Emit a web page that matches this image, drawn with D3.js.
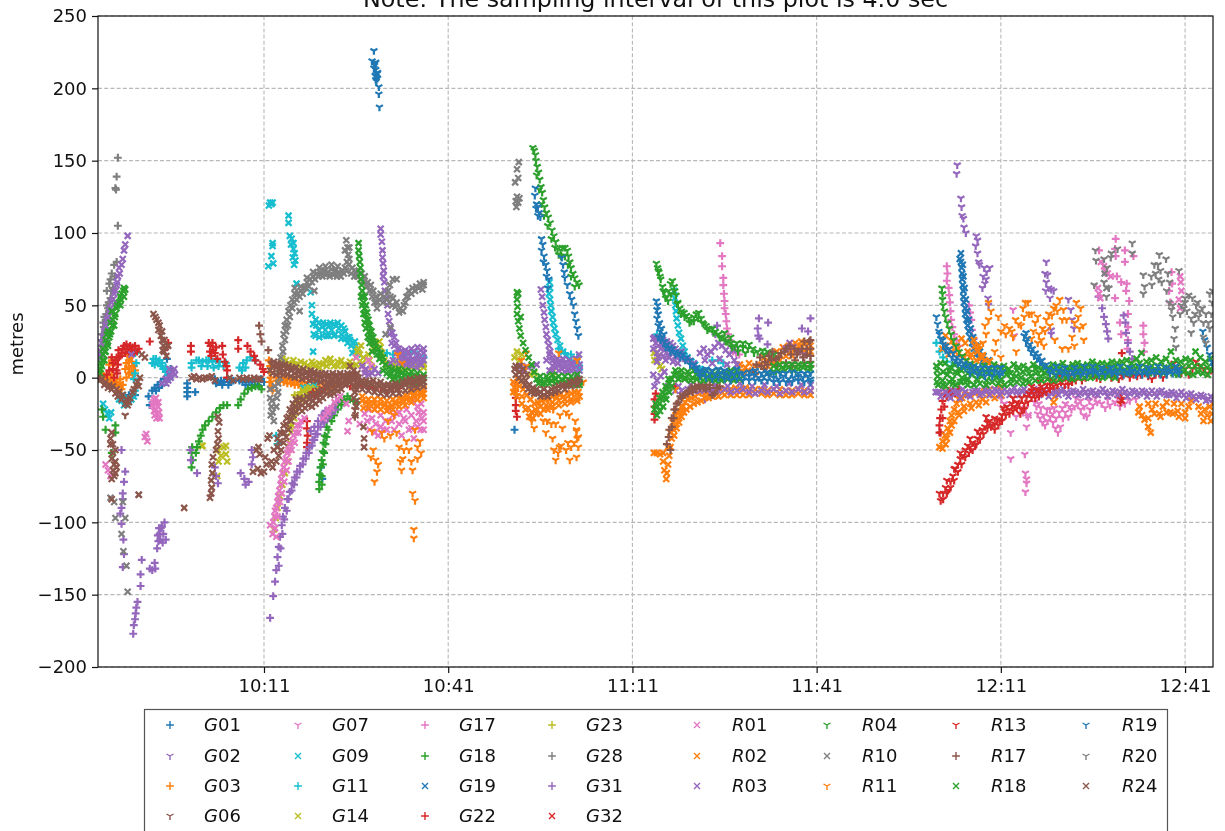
<!DOCTYPE html>
<html>
<head>
<meta charset="utf-8">
<script src="https://cdn.jsdelivr.net/npm/d3@7"></script>
<style>
html, body { margin: 0; padding: 0; background: #fff; overflow: hidden; }
svg { display: block; filter: blur(0.45px); }
text { font-family: "DejaVu Sans", sans-serif; fill: #111; }
.axis text { font-size: 18px; }
.axis path, .axis line { stroke: #111; stroke-width: 1.2px; }
.grid line { stroke: #b8b8b8; stroke-width: 1.1px; stroke-dasharray: 4 2.2; }
</style>
</head>
<body>
<div id="chart"></div>
<script>
// minutes after 10:00, metres
const G01 = [[-12,-13],[-11.5,-15],[-11,-12],[-10.5,-14],[-10,-12],[-7.8,-13],[-7.6,-19],[-7.2,-9],[-6.8,-7],[-6.3,-5],[-5.8,-3],[-5.2,-1],[-4.6,2],[-4.2,6],[-4.8,13],[-1.5,-4],[-1.5,-7],[-1.5,-10],[-1.5,-13],[-0.2,-10],[3,-1],[3.5,-3],[4,-2],[4.5,-3],[5,-1],[5.5,-3],[6,-2],[7,-2],[7.5,-3],[8,-2],[8.5,-3],[9,-3],[9.5,-2],[10,-2],[10.5,-1],[11,-3],[20.5,-70],[20.3,-62],[51.8,-36],[-6.6,-9],[-6.1,-7],[-5.6,-5],[-5,-3],[-4.4,-1],[3.2,-4],[4.2,-5],[5.2,-5],[8,-5],[9,-5],[10,-5]];
const G02 = [[123.9,147],[123.8,141],[124.5,124],[124.6,118],[124.7,112],[124.9,110],[125,104],[125.3,100],[127,98],[127.2,95],[126.9,91],[127.2,86],[127.4,80],[128.3,76],[128.7,73],[129.2,76],[128,62],[128.4,65],[128.9,55],[129,50],[127.5,78],[128.1,70],[128.6,68],[138.4,80],[138.2,72],[138.6,71],[138.4,66],[138.8,62],[138.3,60],[139.2,61],[139.6,60],[139,55],[139.2,33],[139.2,30],[142,54],[142.4,47],[142.6,40],[142.9,34]];
const G03 = [[-15.5,3],[-15,1],[-14.5,0],[-14,-1],[-13.5,-2],[-13,-3],[-12.5,-4],[-12,-5],[-14.2,9],[-13.8,12],[-13.4,10],[-11.2,16],[-10.8,14],[-10.5,11],[-10.2,8],[-10,5],[-10.6,4],[-11,7],[-11.4,10],[-11,3],[11.8,12],[12,8],[11.9,4],[12.1,0],[11.9,-3],[12.2,-6],[12.4,-9],[13.5,0],[14,-1],[14.6,0],[15.2,-1],[15.8,-1],[16.4,-2],[17,-2],[17.6,-3],[18.2,-3],[18.8,-3],[19.4,-3],[20,-4],[20.6,-4],[21.2,-5],[21.8,-4],[22.4,-5],[-15.2,-1],[-14.6,-3],[-14,-4],[-13.4,-5],[-12.8,-6],[-12.2,-8],[-13.8,2],[-11,12],[-10.4,2],[-11.6,6],[-12.4,-1],[-11.4,0],[13,-2],[13.6,-3],[14.2,-3],[14.8,-4],[15.4,-4],[16,-5],[16.6,-5],[17.2,-6],[17.8,-6],[18.4,-7],[19,-7],[19.6,-7],[20.2,-8],[20.8,-7],[21.4,-8],[22,-7],[22.6,-6],[23,-4]];
const G06 = [[-11.6,-26],[25.8,-27],[25.8,-22],[26,-18]];
const G07 = [[133,47],[133.2,29],[131.1,-15],[131.6,-18],[132.6,-38],[133.5,-27],[135.2,-34],[135.4,-27],[132.6,-56],[134.9,-53],[135,-66],[135.2,-70],[135.2,-73],[135,-79],[134.6,-24],[135,-21],[136.8,-20],[137,-25],[137.4,-28],[137.8,-31],[138.2,-33],[138.6,-30],[139,-27],[139.5,-31],[139.9,-35],[140.3,-38],[140.7,-34],[141.1,-28],[141.5,-24],[142,-27],[142.5,-22],[143,-20],[143.5,-18],[144,-22],[144.5,-26],[145,-27],[145.5,-22],[146,-19],[146.7,-17],[147.4,-18],[148,-21],[148.8,-19],[149.6,-17],[150.4,-20],[151.2,-18],[152,-16],[153,-15],[136.5,-17],[137.5,-21],[138.5,-22],[139.7,-21],[140.5,-24],[141.5,-18],[144,-16],[137.2,-18],[138,-26],[139,-22],[139.4,-25],[140,-28],[141,-21],[142.2,-20],[143.2,-14],[144.6,-20],[145.4,-16],[146.4,-14],[148.4,-15],[150,-14]];
const G09 = [[12,121],[12.4,121],[11.8,119],[12.2,120],[12.4,93],[12.4,91],[12.2,84],[11.7,77],[12.5,79],[15,112],[15,107],[15.2,98],[15.5,96],[15.8,93],[15.4,92],[15.8,89],[16,86],[15.7,83],[16.1,81],[15.9,78],[16.3,65],[18.6,59],[18.8,50],[18.8,44],[19,18],[19,37],[19.1,30],[19.5,36],[19.9,33],[20,28],[20.5,35],[21,33],[21.2,29],[21.6,36],[22,33],[22.4,29],[22.8,36],[23.2,34],[23.6,30],[24,34],[24.2,27],[24.6,24],[24.9,28],[25.2,22],[25.4,17],[25.8,20],[26.2,16],[-15.2,-18],[-14.9,-22],[-14.5,-25],[-14.2,-28],[-13.9,-24],[-12.6,-15],[-12,-12],[-11.6,-16],[-11.2,-14],[57.5,66],[57.6,62],[57.4,58],[57.6,54],[57.7,50],[57.8,46],[58,42],[58.1,38],[58.3,34],[58.5,30],[58.8,26],[59.2,22],[59.7,18],[60.2,15],[60.8,13],[61.4,11],[62,9],[62.4,7],[77.8,60],[77.9,55],[78,50],[78.1,46],[78.2,41],[78.4,36],[78.6,31],[78.9,27],[79.2,22],[79.5,18],[80,14],[80.6,11],[81.2,9],[82,6],[82.6,5],[-12.2,-16],[-11.8,-19],[-11.4,-18],[-11,-16],[-10.6,-15],[-10.2,-13],[17.4,-7],[18,-7],[18.6,-6],[19.2,-5],[19.4,40],[20,38],[20.6,38],[21.2,37],[21.8,38],[22.4,37],[23,38],[23.6,36],[24.2,32],[24.6,28],[25,26],[25.4,24],[25.8,25],[26,22],[19.4,29],[20.6,29],[21.6,29],[22.6,30],[23.6,27]];
const G11 = [[-10,17],[-9.8,10],[-10,3],[-10.2,-1],[-10,-9],[-7,13],[-6.6,13],[-6,12],[-5.6,10],[-5,7],[-4.6,5],[-0.8,7],[-0.8,10],[0,12],[0.4,12],[1,11],[1.6,12],[2,12],[2.6,11],[3.2,12],[3.8,11],[4.4,8],[4.8,10],[7,7],[7.6,10],[8.2,12],[8.8,14],[9.6,12],[30,18],[31,17],[32,16],[33,18],[34,17],[35,18],[36,16],[37,14],[13,-40],[13.2,-46],[59,20],[60,17],[61,16],[62,14],[75,30],[76,24],[84,12],[85,12],[85.8,10],[120.5,24],[121,18],[121.6,14],[122.2,11],[123,8],[-7.2,10],[-6.8,9],[-6.2,10],[-5.8,8],[-5.4,6],[-5,4],[0.8,8],[1.8,8],[2.8,7],[3.6,8],[7.4,5],[8,7]];
const G14 = [[3.5,-50],[4,-54],[4.4,-48],[4.8,-53],[4.8,-47],[3.6,-58],[3.4,-68],[1,-47],[0.8,-47],[5,-58],[13.8,10],[14,13],[15,10],[16,9],[17,11],[18,8],[19,9],[20,10],[21,12],[22,10],[23,11],[24,9],[25,11],[26,14],[26.4,20],[27,10],[28,16],[29,24],[30,21],[30,14],[31,8],[32,9],[33,10],[34,9],[35,10],[36,9],[37,9],[28.6,7],[54.3,2],[55,3],[58,4],[74.5,17],[75,12],[75.5,8],[12.6,-105],[12.9,-97],[13.2,-90],[13.6,-82],[14,-74],[14.4,-66],[14.8,-58],[15,-50],[15.2,-45],[15.4,-38],[15.6,-33],[15.9,-28],[16.2,-23],[16.6,-18],[17,-15],[17.5,-13],[18,-11],[18.6,-10],[19.2,-10],[19.6,-8],[15.2,-34],[15.6,-27],[16,-20],[16.4,-16],[16.8,-12],[17.4,-9],[18,-8],[18.6,-7],[13.4,6],[14,9],[14.6,12],[15.2,8],[15.8,12],[16.4,9],[17,7],[17.6,10],[18.2,8],[18.8,11],[19.4,8],[20,7],[20.6,9],[21.2,8],[21.8,13],[22.4,8],[23,8],[23.6,12],[24.2,8],[24.8,8],[25.4,8],[26,9],[26.2,18],[26.6,16],[26.8,22],[27.2,14],[28.2,12],[28.8,20],[29.4,20],[29.8,25],[30.2,17],[30.6,12],[31,10],[32,7],[33,7],[34,7],[35,7],[36,7],[37,7],[31.5,10],[32.5,11],[33.5,11],[34.5,11],[35.5,11],[36.5,11],[51.8,14],[52.2,18],[52.6,12],[53,16],[74.6,12],[75.2,15],[75.8,6]];
const G17 = [[85.3,93],[85.6,84],[85.6,77],[85.8,69],[85.8,64],[85.9,58],[86,53],[86,48],[86.2,44],[86.3,39],[86.4,34],[86.6,30],[86.8,26],[87.1,22],[87.4,18],[87.9,17],[88.4,16],[122.2,77],[122.3,72],[122.2,67],[122.5,62],[122.6,57],[122.7,52],[122.8,46],[122.9,40],[123.1,35],[123.4,30],[123.8,26],[124.2,22],[125.8,50],[126,45],[126.2,40],[126.3,33],[126.6,27],[127,22],[147,88],[149.7,96],[149.6,89],[149.7,84],[151.2,88],[151.2,80],[152.6,84],[149.9,70],[150.6,66],[151.5,65],[151.4,60],[149.6,55],[151.9,53],[151.7,44],[150.4,38],[150.6,30],[151.7,35],[151.7,26],[151.6,20],[154.2,36],[154.2,30],[154.4,24],[154.3,18],[158.8,73],[158.9,65],[158.4,60],[158.6,52]];
const G18 = [[-15.4,-22],[-15.2,-27],[-14.8,-36],[-13.2,-33],[-13.2,-38],[-13.8,-52],[-0.8,-62],[-0.6,-57],[-0.8,-52],[-0.7,-48],[-0.1,-52],[0.1,-48],[0.4,-44],[0.7,-40],[1,-36],[1.4,-33],[2,-30],[2.6,-27],[3.2,-24],[3.8,-21],[4.4,-19],[5,-19],[6.8,-19],[7.2,-15],[7.8,-11],[8.4,-8],[9,-7],[9.6,-6],[10.2,-6],[10.6,-8],[20,-77],[20,-72],[20.1,-67],[20.2,-62],[20.4,-57],[20.6,-51],[20.7,-45],[20.9,-40],[21.2,-34],[21.6,-28],[22,-25],[22.6,-20],[23,-18],[23.5,-16],[24,-15],[24.6,-13],[20.4,-74],[20.4,-68],[20.6,-60],[20.8,-52],[21,-46],[21.2,-41],[21.5,-36],[22,-30],[22.4,-26],[23,-22],[23.6,-19],[24.2,-17],[25,-15],[25.6,-16],[26.2,-17]];
const G19 = [[124.5,86],[124.5,80],[124.6,76],[124.7,72],[124.7,68],[124.8,64],[124.9,60],[124.9,56],[125,52],[125.2,48],[125.2,44],[125.4,40],[125.6,36],[125.8,32],[126,28],[126.3,24],[126.6,20],[127,16],[127.5,13],[128,11],[124.8,78],[124.9,70],[125.1,62],[125.3,54],[125.5,46],[125.8,40],[126.1,34],[126.5,28],[127,22],[127.6,18],[128.2,15],[129,12],[124.3,82]];
const G22 = [[-14.6,2],[-14.2,5],[-13.6,10],[-13,14],[-12.7,19],[-12.4,15],[-12,20],[-11.6,17],[-11.2,20],[-10.8,22],[-10.4,21],[-10,22],[-9.7,18],[-9.4,20],[-13,5],[-13.4,0],[-12.8,9],[-7.6,25],[-4.8,21],[-4.6,24],[-0.9,22],[-0.9,18],[2,24],[2.3,22],[2.7,19],[2.4,15],[3,17],[3.4,13],[4.2,22],[4.3,16],[4.6,11],[4.9,8],[5,5],[5,0],[6.8,26],[6.8,20],[8.3,22],[8.8,18],[9.4,15],[9.6,12],[10.4,9],[10.8,6],[11,4],[51.9,-4],[51.9,-9],[52,-14],[52,-19],[52,-23],[52.2,-27],[74.6,-15],[74.6,-20],[74.6,-25],[74.6,-29],[74.8,-11],[78,-6],[121,-33],[121.1,-28],[121.3,-22],[121.5,-16],[121.9,-11],[122.5,-9],[123.2,-9],[123.8,-11],[124.2,-8],[150.5,-11],[150.6,-14],[150.5,-17],[150.7,17],[-13.6,6],[-13.2,12],[-12.6,14],[-12.2,17],[-11.8,22],[-11.4,23],[-11,18],[-10.6,18],[-10.2,17],[-13.8,14],[-12.9,3],[18,-30],[18,-35],[18.1,-40],[18,-45],[18,-48],[19.2,-13],[19.6,-11],[20,-10],[20.4,-9],[20.8,-8],[19,-10],[121.5,-28],[121.8,-20],[122.2,-13],[123,-12],[124,-13],[121.2,-38],[121,-38],[2.2,18],[2.6,24],[3.2,21]];
const G23 = [[16,-12],[17,-10],[18,-8]];
const G28 = [[-12.8,152],[-13,139],[-13.2,131],[-13.1,130],[-12.8,105],[-13,80],[-13.4,78],[-13.8,72],[-14.2,65],[-14.6,60],[-14,68],[-14.6,50],[-15,42],[-15.4,30],[-15.8,16],[-15.2,38],[-13.3,70],[-13.6,62],[-14,55],[-14.4,48],[-14.8,40],[-15.2,30],[-15.6,22],[-13.9,60],[-14.3,52],[-14.7,44],[-15.1,35],[-15.5,26]];
const G31 = [[-12.2,-50],[-11.6,-65],[-11.8,-72],[-12,-80],[-12,-84],[-12.2,-90],[-12.4,-94],[-12.2,-101],[-11.9,-112],[-11.8,-122],[-12,-131],[-8.9,-126],[-9.1,-136],[-9.1,-144],[-9.6,-155],[-9.8,-159],[-9.9,-163],[-10,-167],[-10.2,-171],[-10.3,-177],[-7.6,-132],[-7.2,-133],[-6.8,-128],[-6.7,-132],[-6.4,-118],[-6.2,-113],[-6,-108],[-5.8,-104],[-5.4,-108],[-5.2,-100],[-5,-112],[-1,-50],[-0.9,-57],[0.1,-66],[3,-62],[3.2,-68],[3.5,-73],[7.2,-66],[7.8,-70],[8,-74],[8.5,-72],[9,-50],[9.2,-55],[9,-60],[12,-166],[12.5,-151],[12.8,-141],[13,-133],[13.2,-124],[13.4,-117],[13.6,-110],[13.9,-102],[14.1,-96],[14.4,-90],[14.8,-84],[15.2,-79],[15.6,-73],[16,-69],[16.4,-65],[16.9,-61],[17.4,-56],[17.9,-52],[18.4,-48],[18.9,-43],[19.4,-39],[19.8,-34],[20.4,-30],[21,-27],[21.6,-23],[22.2,-20],[22.8,-17],[82.8,-15],[84.8,36],[84.5,30],[91.6,41],[93.1,38],[91.4,34],[91.5,29],[91.7,27],[100,41],[98.6,34],[99.6,32],[93,23],[146.9,56],[147.5,48],[147.8,42],[148.1,37],[148.3,32],[148.5,27],[151,43],[151.3,38],[151.4,31],[151.7,24],[152,18],[152.4,13],[13.4,-130],[13.7,-118],[14,-108],[14.3,-98],[14.7,-92],[15,-84],[15.5,-78],[15.9,-74],[16.3,-69],[16.8,-65],[17.3,-60],[17.8,-56],[18.3,-52],[18.8,-47],[19.2,-43],[19.7,-39],[20.2,-34],[20.8,-31],[21.4,-28],[22,-25],[22.6,-22],[18.6,-37],[19.2,-34],[19.8,-30],[20.4,-26],[21,-23],[-5.9,-112],[-5.6,-103],[-6.1,-104],[-5.5,-114],[-6.3,-109]];
const G32 = [[150.7,-16]];
const R01 = [[-8.2,-39],[-8,-44],[-8.4,-41],[-7.2,-19],[-6.9,-15],[-6.5,-18],[-6.7,-22],[-6.3,-20],[-6.8,-26],[-6.4,-25],[-6,-28],[-14.8,-60],[-14.4,-64],[-14,-68],[13,-110],[12.5,-100],[12,-102],[12.8,-92],[13.2,-86],[13.5,-78],[13.8,-70],[14.2,-62],[14.6,-56],[15,-50],[15.6,-44],[16.2,-38],[16.8,-33],[21.5,-22],[22.5,-17],[24.4,-18],[24.8,-30],[24.6,-37],[26,14],[27,8],[28,12],[28.5,8],[27.5,5],[27.4,-25],[27.8,-30],[28.2,-36],[28.6,-28],[29,-22],[29.2,-32],[29.6,-40],[30,-26],[30.4,-36],[30.8,-30],[31.4,-22],[31.8,-30],[32.2,-36],[32.6,-25],[33,-32],[33.4,-40],[33.8,-28],[34.2,-22],[34.6,-36],[35,-26],[35.4,-42],[35.8,-30],[36.2,-24],[36.5,-36],[36.7,-28],[36.6,-18],[36,-20],[35.2,-16],[26.6,-32],[135.5,-26],[147.8,77],[148,74],[148.4,72],[148.9,70],[147.3,80],[146.8,62],[147,58],[147.2,55],[160.2,70],[160.3,66],[160.4,60],[160,54],[160.2,48],[-7,-17],[-6.6,-14],[-6.2,-17],[-6.9,-23],[-6.5,-28],[-6.1,-24],[12.4,-108],[12.7,-96],[13,-90],[13.3,-82],[13.7,-74],[14,-66],[14.4,-58],[14.8,-52],[15.2,-46],[15.8,-40],[16.4,-33],[12.8,-104],[13.2,-96],[13.6,-86],[13.9,-80],[14.3,-72],[14.7,-64],[15,-58],[15.5,-50],[16,-45],[16.6,-38],[17,-30],[17.6,-28],[20.6,-28],[21,-26],[21.4,-24],[22,-21],[23,-15],[23.4,-13],[28,-22],[30,-34],[32,-26],[34,-30],[36,-34],[29,-38],[31,-36],[33,-24],[35,-35],[37,-30],[37,-24],[37,-36]];
const R02 = [[27,-16],[27.6,-17],[28.2,-18],[28.8,-18],[29.4,-19],[30,-18],[30.6,-19],[31.2,-20],[31.8,-19],[32.4,-18],[33,-17],[33.6,-16],[34.2,-15],[34.8,-14],[35.4,-13],[36,-12],[36.6,-11],[37,-11],[27,-13],[28,-15],[29,-15],[30,-15],[31,-16],[32,-15],[33,-14],[34,-12],[35,-10],[36,-9],[37,-8],[51.6,-3],[52,-5],[52.6,-6],[53.2,-8],[53.8,-12],[54.4,-15],[55,-18],[55.6,-17],[56.2,-16],[56.8,-15],[57.4,-15],[58,-13],[58.6,-13],[59.2,-12],[59.8,-13],[60.4,-11],[61,-11],[61.6,-10],[62.2,-10],[52,-10],[53,-13],[54,-21],[54.6,-24],[55.2,-22],[56,-20],[57,-19],[58,-17],[59,-16],[60,-15],[61,-15],[62,-14],[74.5,-52],[75,-52],[75.5,-53],[76,-52],[76,-58],[76.2,-64],[76.5,-70],[76.6,-66],[76.8,-60],[77,-54],[77.2,-48],[77.4,-42],[77.7,-36],[78,-32],[78.4,-28],[78.8,-24],[79.2,-20],[79.6,-17],[80,-15],[80.6,-14],[81.2,-13],[81.8,-11],[82.4,-10],[83,-10],[83.8,-9],[84.6,-9],[85.4,-8],[86.2,-8],[87,-8],[87.8,-7],[88.6,-8],[89.4,-7],[90.2,-8],[91,-8],[92,-8],[93,-9],[94,-8],[95,-8],[96,-9],[97,-9],[98,-8],[99,-9],[100,-9],[88.5,9],[89.4,7],[90,10],[91,8],[92.5,14],[93,12],[94,13],[95,16],[96,19],[96.8,18],[97.6,20],[98.4,22],[99,23],[99.6,24],[100,22],[121,-48],[121.5,-44],[121.9,-40],[122.3,-35],[122.7,-30],[123,-26],[123.4,-22],[123.8,-18],[124.2,-15],[124.7,-14],[125.2,-12],[126,-12],[126.8,-11],[127.6,-10],[128.4,-9],[129.2,-8],[130,-8],[130.8,-7],[121.5,-49],[122.2,-42],[123,-33],[124,-24],[125,-20],[126,-18],[127,-17],[128,-15],[129,-12],[139.6,-17],[139.8,-13],[140,-8],[123,25],[122,29],[121.5,20],[122.5,16],[123.4,22],[124,20],[124.6,27],[125.2,24],[125.6,18],[126.2,16],[126.8,22],[127.2,18],[127.8,14],[128.4,12],[153.6,-20],[154,-26],[154.4,-29],[155,-34],[155.4,-38],[155,-28],[155.6,-22],[156.2,-18],[156.8,-25],[157.4,-20],[158,-17],[158.6,-24],[159.2,-18],[159.8,-23],[160.4,-18],[161,-24],[161.6,-20],[162,-16],[163.6,-25],[164,-30],[164.6,-26],[165,-20],[165.4,-25],[155,-18],[153.4,-24],[27.2,-21],[28,-21],[29,-22],[30,-22],[31,-23],[32,-22],[33,-20],[34,-19],[35,-17],[36,-15],[37,-14],[51.6,-10],[52.2,-13],[53,-18],[53.6,-22],[54.2,-27],[54.8,-28],[55.4,-25],[56,-25],[56.6,-22],[57.2,-22],[58,-20],[59,-19],[60,-18],[61,-17],[62,-16],[62.4,-13],[52.4,-1],[51.8,-7],[77.8,-40],[78.2,-35],[78.6,-31],[79,-27],[79.4,-24],[79.8,-22],[80.4,-20],[81,-18],[81.6,-17],[82.2,-16],[82.8,-14],[83.4,-14],[84,-13],[85,-13],[86,-12],[87,-12],[88,-12],[89,-12],[90,-12],[91,-11],[92,-11],[93,-12],[94,-11],[95,-12],[96,-12],[97,-12],[98,-11],[99,-12],[100,-12],[76.8,-48],[77.2,-38],[77.6,-31],[78,-26],[78.5,-23],[79,-20],[89,4],[89.8,5],[91,4],[92,9],[93,8],[94,10],[95,12],[96,15],[97,15],[98,18],[99,18],[100,18],[94.5,18],[95.5,21],[96.5,22],[97.5,24],[98.5,25],[125,14],[126,14],[127,12],[128,14],[129,10],[124,16],[123,18],[122,22],[126.6,26],[127.4,22],[122,-46],[122.7,-38],[123.4,-30],[124.2,-26],[125,-23],[126.2,-21],[127.4,-19],[128.6,-17],[130,-14],[131,-12],[156,-25],[157,-27],[158,-24],[159,-25],[160,-27],[161,-28],[163.2,-20],[164.2,-22],[165.2,-30],[165.6,-18]];
const R03 = [[-11.2,98],[-11.6,92],[-11.8,88],[-12,82],[-12.6,76],[-12.8,70],[-13,64],[-13.4,58],[-13.8,52],[-14.2,46],[-14.6,40],[-15,32],[-15.4,24],[-15.8,14],[-10.6,16],[-4.6,-2],[-4.2,0],[-3.8,4],[-4.4,6],[-3.6,6],[-5.6,-4],[-5,-1],[30,103],[30,99],[30.2,94],[30.3,88],[30.3,83],[30.4,79],[30.5,74],[30.4,70],[30.6,66],[30.7,60],[30.9,55],[31.1,50],[31.2,44],[31.4,39],[31.6,34],[31.9,31],[32.2,28],[32.5,24],[32.8,20],[33.2,18],[33.6,15],[34,14],[34.4,12],[34.8,15],[35.2,13],[35.6,11],[36,15],[36.4,10],[36.8,13],[37,17],[33,14],[33.6,10],[34.2,9],[35,8],[35.8,7],[36.6,9],[32,12],[31.6,10],[27,8],[27.4,3],[27.6,6],[28,2],[28.6,3],[29,6],[29.6,3],[56.1,61],[56.3,56],[56.4,50],[56.6,45],[56.7,40],[56.9,35],[57,30],[57.2,26],[57.4,22],[57.6,18],[57.9,14],[58.3,10],[58.8,13],[59.2,9],[59.7,13],[60.2,8],[60.7,12],[61.2,9],[61.8,13],[62.3,16],[62.4,9],[58,5],[59,5],[60,4],[61,5],[62,3],[53,8],[53.4,5],[54,7],[54.6,8],[55.4,9],[74.4,27],[74.8,24],[75.4,27],[76,26],[76.6,25],[77.2,24],[74.4,20],[75,17],[75.6,20],[76.2,19],[76.8,16],[77.4,18],[78,20],[78.6,17],[79,14],[79.6,13],[75,11],[76.4,12],[77.6,11],[78.4,10],[82,17],[82.6,20],[83.2,16],[83.8,18],[84.4,21],[85,24],[85.6,22],[86.2,19],[86.8,16],[87.4,19],[82.8,12],[84,10],[85.2,13],[86.4,9],[87.6,12],[88,9],[96,20],[96.6,24],[97.2,21],[98,18],[99,16],[74.4,2],[75,-2],[75.6,1],[76.2,4],[74.6,-6],[76.8,-6],[78,-9],[79,-9],[80,-8],[81,-9],[82,-9],[83,-8],[84,-9],[85,-9],[86,-8],[87,-10],[88,-9],[89,-8],[90,-10],[91,-11],[92,-9],[93,-10],[94,-8],[95,-11],[96,-9],[97,-10],[98,-8],[99,-10],[100,-9],[78.5,-6],[80.5,-5],[82.5,-6],[84.5,-5],[86.5,-6],[88.5,-4],[90.5,-6],[92.5,-5],[94.5,-6],[96.5,-4],[98.5,-5],[100,-5],[120.4,-10],[121.2,-13],[122,-10],[122.8,-14],[123.6,-11],[124.4,-14],[125.2,-10],[126,-13],[126.8,-9],[127.6,-12],[128.4,-8],[129.2,-12],[130,-8],[130.8,-12],[131.6,-8],[132.4,-12],[133.2,-7],[134,-12],[134.8,-8],[135.6,-12],[136.4,-8],[137.2,-12],[138,-8],[138.8,-13],[139.6,-9],[140.4,-12],[141.2,-8],[142,-13],[142.8,-9],[143.6,-12],[144.4,-8],[145.2,-13],[146,-9],[146.8,-12],[147.6,-8],[148.4,-13],[149.2,-9],[150,-12],[150.8,-8],[151.6,-13],[152.4,-9],[153.2,-12],[154,-9],[154.8,-13],[155.6,-9],[156.4,-13],[157.2,-9],[158,-12],[158.8,-10],[159.6,-14],[160.4,-10],[161.2,-14],[162,-11],[162.8,-15],[163.6,-12],[164.4,-16],[165.2,-13],[120.8,-10],[121.6,-8],[122.4,-12],[123.2,-9],[124,-10],[124.8,-8],[125.6,-12],[126.4,-10],[127.2,-9],[128,-11],[128.8,-9],[129.6,-10],[130.4,-9],[131.2,-10],[132,-10],[132.8,-9],[133.6,-10],[134.4,-9],[135.2,-10],[136,-10],[136.8,-9],[137.6,-10],[138.4,-10],[139.2,-11],[140,-10],[140.8,-9],[141.6,-11],[142.4,-10],[143.2,-10],[144,-11],[144.8,-10],[145.6,-10],[146.4,-11],[147.2,-10],[148,-10],[148.8,-11],[149.6,-10],[150.4,-10],[151.2,-10],[152,-11],[152.8,-10],[153.6,-11],[154.4,-10],[155.2,-11],[156,-11],[156.8,-10],[157.6,-11],[158.4,-12],[159.2,-11],[160,-12],[160.8,-12],[161.6,-12],[162.4,-13],[163.2,-13],[164,-13],[164.8,-15],[165.6,-15],[-12.2,78],[-12.5,72],[-12.9,66],[-13.2,60],[-13.6,54],[-14,48],[-14.4,42],[-14.8,36],[-15.2,28],[-15.6,18],[-13,52],[-13.8,40],[-14.6,26],[-15.4,14],[-4.9,-4],[-4.4,2],[-4,4],[-3.5,2],[33,20],[33.5,18],[34,19],[34.5,18],[35,20],[35.5,18],[36,21],[36.5,19],[37,20],[33,10],[34,12],[35,11],[36,12],[37,12],[32.2,22],[32.6,17],[31.4,30],[31.8,24],[57,12],[57.5,5],[58,12],[58.5,7],[59,11],[59.5,6],[60,10],[60.5,5],[61,10],[61.5,6],[62,11],[62.4,5],[57.5,16],[58,8],[74.6,28],[75.2,22],[75.8,23],[76.4,22],[77,20],[77.6,22],[78.2,14],[75.2,14],[76,15],[77,14],[78,15],[79,18],[80,12],[81,10]];
const R04 = [[54.8,159],[55,157],[55.2,154],[55.3,150],[55.5,146],[55.7,142],[55.9,137],[56.1,132],[56.3,128],[56.5,123],[56.7,118],[57,114],[57.3,111],[57.6,107],[57.9,102],[58.2,98],[58.5,94],[58.8,89],[59,85],[59.3,88],[59.6,90],[60,90],[60.4,88],[60.6,84],[60.8,80],[61,76],[61.3,72],[61.6,69],[62,66],[62.3,64],[74.9,79],[75.1,76],[75.3,73],[75.6,68],[75.9,63],[76.2,59],[76.6,56],[76.9,60],[77.2,65],[77.5,67],[77.8,63],[78.1,57],[78.4,52],[78.7,48],[79,46],[79.4,45],[79.8,43],[80.2,41],[80.6,39],[81,42],[81.4,44],[81.8,45],[82.2,41],[82.6,37],[83,36],[83.5,34],[84,34],[84.5,32],[85,30],[85.5,28],[86,27],[86.5,25],[87,24],[87.6,22],[88.2,21],[89,21],[89.8,20],[90.6,20],[91.4,18],[92.2,19],[93,18],[94,16],[121.4,62],[121.5,58],[121.5,54],[121.6,50],[121.8,46],[122,42],[122.3,38],[122.6,34],[122.9,30],[123.3,26],[123.7,22],[124.2,18],[124.7,15],[125.3,12],[126,10],[55.4,140],[55.8,130],[56.2,120],[56.6,112],[57.2,105],[57.8,96],[58.4,90],[59.4,84],[60,84],[60.5,78],[61,70],[61.6,63],[75.2,74],[75.5,70],[76,60],[76.4,55],[76.8,53],[77.3,58],[77.9,60],[78.3,51],[78.9,44],[79.5,42],[80.3,38],[81,39],[81.7,41],[82.4,38],[83.2,33],[84.2,31],[85.2,28],[86.2,25],[87.2,21],[88.2,18],[89.4,17],[90.8,17],[92.4,16],[93.4,15],[86,31],[87,28],[88,24],[89,24],[90,23]];
const R10 = [[12,-8],[12,-14],[12.2,-20],[12.6,-30],[13,-20],[13.3,-10],[13.6,0],[13.4,6],[13.7,14],[14,22],[14.2,30],[14.4,36],[14.7,40],[15,46],[15.3,50],[15.6,54],[16,58],[16.5,58],[17,60],[17.5,62],[18,66],[18.5,68],[19,70],[19.6,72],[20.2,73],[20.8,74],[21.4,73],[22,75],[22.6,74],[23.2,73],[23.8,74],[24.2,76],[24.5,80],[24.7,85],[24.6,90],[24.4,95],[25.4,76],[25.9,73],[26.4,74],[26.9,72],[27.4,70],[27.9,66],[28.4,64],[28.8,60],[29.2,56],[29.5,52],[30,58],[30.6,56],[31.2,60],[31.6,56],[32,55],[32.6,52],[33.2,48],[33.8,50],[34.2,56],[34.6,60],[35.2,62],[35.8,63],[36.4,65],[37,64],[32,68],[32.6,68],[31.5,64],[30.8,30],[31.6,35],[19.2,60],[16.8,46],[-14,-83],[-13.4,-86],[-13.2,-97],[-12,-86],[-11.6,-97],[-12.2,-108],[-11.9,-120],[-11.4,-130],[-11.2,-148],[-9.4,-81],[52,122],[52.2,125],[52.4,121],[52.1,118],[52.6,124],[51.9,135],[52.2,144],[52.4,138],[52.5,149],[148.2,62],[147.9,72],[13.9,10],[14.1,18],[14.4,26],[14.6,32],[14.9,36],[15.2,42],[15.6,48],[15.9,52],[16.3,54],[16.8,56],[17.3,58],[17.8,62],[18.3,63],[18.8,66],[19.3,68],[19.9,70],[20.5,70],[21.1,71],[21.7,70],[22.3,71],[22.9,70],[23.5,70],[24,72],[24.4,74],[24.8,78],[24.9,82],[24.2,88],[24.9,90],[25.2,72],[25.7,70],[26.2,70],[26.7,68],[27.2,67],[27.7,63],[28.2,60],[28.6,56],[29,52],[29.4,48],[29.8,54],[30.4,52],[31,54],[31.4,52],[31.9,50],[32.4,49],[33,45],[33.6,46],[34,52],[34.4,56],[35,58],[35.6,60],[36.2,62],[36.8,61],[37,66],[16,62],[17,63],[18,69],[19,73],[20,76],[21,77],[22,78],[23,77],[12.3,-16],[12.4,-24],[12.1,-26],[12.8,-6],[13.1,-14],[13.3,-4]];
const R11 = [[28.6,-37],[28.8,-50],[29.2,-57],[29.6,-60],[28.4,-55],[29.4,-65],[29,-72],[30.2,-38],[30.6,-42],[31.2,-30],[31.6,-40],[32.2,-26],[32.6,-38],[33,-48],[33.2,-58],[33.4,-64],[33.6,-56],[33.8,-50],[34.2,-44],[34.6,-50],[35,-58],[35.2,-64],[35.6,-36],[36,-48],[36.4,-44],[36.6,-52],[36,-56],[35.2,-80],[35.6,-85],[35.4,-105],[35.4,-111],[32.8,16],[33.5,10],[33.5,-14],[52.9,12],[53.7,17],[53.7,8],[58,-42],[58.2,-50],[58.5,-57],[58.9,-52],[59.1,-48],[59.4,-47],[60.2,-24],[60.7,-26],[61.7,-30],[61.9,-37],[62,-42],[61.5,-45],[61,-48],[60.5,-45],[60.2,-50],[59.6,-35],[59.2,-26],[58.5,-32],[58.1,-22],[57.3,-20],[57.8,-32],[61.9,-36],[62.2,-41],[62.2,-48],[61.9,-55],[60.8,-57],[57.1,-30],[56.5,-30],[56.9,-38],[54.6,-30],[55,-35],[63,-3],[59,17],[62,12],[78,-8],[129,52],[129.4,46],[129,40],[128.4,36],[128.6,30],[128.1,24],[130.2,25],[131,32],[131.6,36],[130.6,42],[132.8,32],[133.4,40],[133.9,37],[134.8,42],[135.4,52],[136,44],[136.6,38],[137.2,30],[137.8,34],[138.4,40],[139,36],[139.6,48],[140.6,54],[141.2,47],[141.7,40],[143.3,52],[144,48],[143,38],[143.8,34],[144.5,26],[143,22],[142,20],[133.5,18],[131,14],[128,16],[127.4,20],[136,27],[137,24],[138,22],[139.8,26],[141,20],[130,18],[129.2,12],[130.8,8],[131.8,30],[132.4,34],[133,28],[134.3,36],[134.6,48],[135,52],[135.6,44],[136.3,32],[137,42],[137.6,26],[138.2,32],[138.8,44],[139.3,43],[140,50],[140.2,46],[141,40],[142.6,28],[143.6,42],[144.4,36]];
const R13 = [[121.2,-85],[121.6,-80],[122,-76],[122.4,-78],[122.8,-72],[123.2,-68],[123.6,-63],[124,-60],[124.4,-56],[124.8,-54],[125.2,-50],[125.6,-47],[126,-48],[126.4,-45],[126.8,-47],[127.2,-42],[127.6,-39],[128,-36],[128.4,-34],[128.8,-31],[129.2,-30],[129.6,-33],[130,-32],[130.4,-29],[130.8,-30],[131.2,-26],[131.6,-23],[132,-20],[132.4,-22],[132.8,-18],[133.2,-20],[133.6,-17],[134,-18],[134.4,-22],[134.8,-18],[135.2,-13],[135.6,-11],[136,-9],[136.4,-11],[136.8,-8],[137.2,-9],[137.6,-6],[138,-8],[138.5,-5],[139,-5],[139.5,-2],[140,-3],[140.5,1],[141,-2],[141.5,0],[142,-2],[142.5,-1],[143,2],[143.6,1],[144.2,-2],[144.8,0],[145.4,3],[146,2],[146.6,0],[147.2,-1],[147.8,2],[148.4,3],[149,0],[149.6,2],[150.2,-1],[150.8,1],[151.4,3],[152,0],[152.6,2],[153.2,1],[153.8,2],[154.4,3],[155,1],[155.6,-1],[156.2,2],[156.8,3],[157.4,0],[158,3],[158.6,6],[159.2,10],[159.8,6],[160.4,3],[161,6],[161.6,2],[162.2,6],[162.8,11],[163.4,8],[164,6],[164.6,3],[165.2,5],[24,-4],[25,-6],[26,-7],[27,-6],[28,-7],[29,-8],[30,-7],[31,-9],[32,-7],[33,-8],[121.6,-84],[122.2,-80],[122.8,-76],[123.4,-71],[124,-65],[124.6,-60],[125.2,-55],[125.8,-52],[126.4,-50],[127,-46],[127.6,-43],[128.2,-39],[128.8,-35],[129.4,-34],[130,-36],[130.6,-33],[131.2,-30],[131.8,-26],[132.4,-25],[133,-23],[133.6,-21],[134.2,-25],[134.8,-22],[135.4,-17],[136,-14],[136.6,-14],[137.2,-13],[137.8,-11],[138.4,-10],[139,-8],[139.6,-6],[140.2,-5],[140.8,-3],[141.4,-5],[142,-5],[142.6,-3],[143.2,-2],[121,-80],[122.2,-71],[123.4,-63],[124.4,-52],[126,-42],[127.2,-37],[128.6,-27],[130,-28],[131.4,-21],[133,-14],[134.4,-14],[136,-6],[137.4,-3],[139,-1],[140.6,4],[142.4,2],[144,2],[146,5],[148,6]];
const R17 = [[10.2,36],[10.4,30],[10.6,25],[12.2,11],[11.7,19],[77.2,-50],[76.9,-41],[77.4,-34],[77.7,-28],[78,-22],[78.5,-17],[79,-14],[79.6,-11],[80.2,-9],[80.8,-10],[81.4,-8],[82,-7],[82.6,-7],[83,-8],[83.6,-7],[84,-12],[84.4,-11],[84.8,-7],[85.2,-6],[90.6,5],[91.2,9],[91.8,14],[92.6,11],[93.2,15],[93.8,18],[94.4,13],[95.2,17],[96,20],[96.8,16],[97.4,20],[98,18],[98.8,14],[99.4,20],[99.8,25],[100,20],[100,15],[92,8],[93,9],[94.6,8],[96,10],[97.5,12],[99,10],[100,8],[76.6,-46],[77,-36],[77.4,-28],[77.8,-22],[78.2,-18],[78.8,-13],[79.4,-12],[80,-11],[80.6,-7],[81.2,-6],[81.8,-5],[82.4,-5],[83,-5],[83.6,-5],[91,3],[92.4,6],[93.6,12],[94.8,14],[95.8,18],[96.6,22],[97.8,16],[98.6,20],[99.4,16],[99,25],[100,26],[100,11],[97,8]];
const R18 = [[26.4,93],[26.4,88],[26.5,84],[26.6,80],[26.7,76],[26.7,72],[26.8,68],[26.9,64],[27,60],[27.1,56],[27.2,52],[27.4,48],[27.5,44],[27.7,40],[27.9,36],[28.1,32],[28.4,28],[28.7,24],[29,20],[29.4,16],[29.8,13],[30.3,11],[30.8,9],[31.3,7],[31.8,6],[32.3,5],[32.8,4],[33.4,3],[34,2],[34.6,2],[35.2,1],[35.8,1],[36.4,0],[37,0],[31.5,1],[32,-1],[33,-3],[34,-4],[35,-3],[36,-4],[37,-3],[-11.6,61],[-11.9,60],[-12.2,58],[-11.8,56],[-12.3,54],[-12.6,52],[-12.4,50],[-13,48],[-13.2,44],[-13.6,40],[-13.4,36],[-13.9,32],[-14.2,28],[-14.4,22],[-14.8,18],[-15,12],[-15.4,8],[-15.7,3],[-13.8,46],[-14.6,30],[-15.2,20],[52.2,59],[52.2,54],[52.3,49],[52.2,44],[52.4,39],[52.6,34],[52.8,29],[53.2,24],[53.6,19],[54.1,14],[54.6,9],[55,4],[55.4,-1],[55.7,-4],[52.4,58],[52.8,42],[56,-2],[56.6,-3],[57.2,-1],[57.8,-2],[58.4,-1],[59,-3],[59.6,-2],[60.2,-3],[60.8,-2],[61.4,-2],[62,-1],[62.4,-3],[74.6,-22],[75,-20],[75.4,-18],[75.8,-14],[76.2,-12],[76.6,-8],[77,-4],[77.4,-1],[77.8,2],[78.2,3],[78.6,1],[79,2],[79.6,0],[80.2,2],[80.8,0],[81.4,2],[82,0],[82.6,2],[83.2,1],[83.8,2],[84.4,0],[85,2],[85.6,0],[86.2,1],[86.8,3],[87.4,0],[88,2],[94,4],[94.8,5],[95.6,6],[96.4,7],[97.2,5],[98,6],[98.8,7],[99.6,5],[100,6],[120.5,8],[121.2,10],[121.9,10],[122.7,7],[123.5,9],[124.3,6],[125.1,9],[125.9,7],[126.7,8],[127.5,5],[128.3,8],[129.1,6],[129.9,9],[130.7,7],[131.5,8],[132.3,6],[133.1,9],[133.9,7],[134.7,8],[135.5,6],[136.3,9],[137.1,7],[137.9,8],[138.7,7],[139.5,9],[140.3,8],[141.1,10],[141.9,7],[142.7,9],[143.5,10],[144.3,8],[145.1,9],[145.9,11],[146.7,9],[147.5,10],[148.3,9],[149.1,11],[149.9,10],[150.7,11],[151.5,12],[152.3,10],[153.1,13],[153.9,17],[154.7,11],[155.5,12],[156.3,14],[157.1,11],[157.9,13],[158.7,18],[159.5,12],[160.3,11],[161.1,13],[161.9,12],[162.7,18],[163.5,14],[164.3,11],[165.1,13],[120.7,1],[121.5,-2],[122.3,2],[123.1,-1],[123.9,3],[124.7,0],[125.5,-2],[126.3,2],[127.1,-1],[127.9,1],[128.7,-2],[129.5,2],[130.3,0],[131.1,-1],[131.9,2],[132.7,-1],[133.5,1],[134.3,0],[135.1,-2],[135.9,1],[136.7,3],[137.5,1],[138.3,3],[139.1,4],[139.9,2],[140.7,4],[141.5,3],[142.3,5],[143.1,3],[143.9,4],[144.7,5],[145.5,3],[146.3,4],[147.1,5],[147.9,3],[148.7,4],[149.5,3],[150.3,5],[151.1,4],[151.9,3],[152.7,5],[153.5,6],[154.3,4],[155.1,3],[155.9,5],[156.7,4],[157.5,3],[158.3,5],[159.1,3],[159.9,2],[160.7,4],[161.5,3],[162.3,2],[163.1,4],[163.9,3],[164.7,2],[165.3,5],[120.8,-5],[122,-6],[123.2,-4],[124.4,-3],[125.6,-5],[27.4,56],[27.6,50],[27.8,45],[28,40],[28.2,36],[28.5,32],[28.8,28],[29.2,24],[29.6,20],[30,17],[30.4,14],[26.8,56],[27,50],[27.2,44],[27.4,38],[27.6,34],[27.9,28],[28.2,24],[28.6,18],[30.4,5],[31,3],[31.6,3],[32.2,1],[32.8,1],[33.4,0],[34,-2],[34.6,-1],[35.2,-2],[35.8,-2],[36.4,-2],[37,2],[36,3],[35,4],[34,5],[33,6],[-11.8,62],[-12.4,56],[-12.9,50],[-13.3,42],[-13.7,36],[-14.1,30],[-14.5,24],[-14.9,18],[-15.3,12],[-15.6,6],[-14,38],[-14.4,32],[-14.8,26],[-15.2,16],[-15.6,10],[-15.9,5],[56,1],[57,1],[58,2],[59,1],[60,1],[61,1],[62,2],[56.5,-5],[57.5,-4],[58.5,-4],[59.5,-5],[60.5,-5],[61.5,-5],[62.4,-5],[78,5],[79,5],[80,4],[81,5],[82,4],[83,5],[84,4],[85,5],[86,4],[87,5],[88,4],[78.5,-1],[79.5,-1],[80.5,-2],[81.5,-1],[82.5,-2],[83.5,-1],[84.5,-2],[85.5,-2],[86.5,-1],[87.5,-2],[88.5,-1],[75,-26],[75.5,-23],[76,-20],[76.5,-15],[77,-10],[77.4,-6],[74.8,-18],[75.4,-14],[75.9,-10],[76.4,-6],[76.9,-1],[94,8],[95,9],[96,9],[97,9],[98,9],[99,9],[100,9],[93,3],[120.6,5],[121.6,4],[122.6,5],[123.6,4],[124.6,5],[125.6,3],[126.6,5],[127.6,3],[128.6,4],[129.6,5],[130.6,3],[131.6,5],[132.6,3],[133.6,5],[134.6,4],[135.6,3],[136.6,6],[137.6,5],[138.6,5],[139.6,6],[140.6,6],[141.6,6],[142.6,7],[143.6,7],[144.6,6],[145.6,7],[146.6,7],[147.6,6],[148.6,7],[149.6,7],[150.6,8],[151.6,7],[152.6,8],[153.6,10],[154.6,7],[155.6,8],[156.6,8],[157.6,7],[158.6,9],[159.6,7],[160.6,7],[161.6,8],[162.6,8],[163.6,8],[164.6,7],[165.6,8],[120.6,-3],[121.6,-5],[122.6,-3],[123.6,-5],[124.6,-3],[125.6,-1],[126.6,-5],[127.6,-4],[128.6,-5],[129.6,-3],[130.6,-4],[131.6,-5],[132.6,-4],[133.6,-3],[134.6,-4],[135.6,-3],[136.6,-2],[137.6,-2],[138.6,-1],[139.6,-2],[140.6,-1],[141.6,0],[142.6,-1],[143.6,0],[144.6,0],[145.6,0],[146.6,1],[147.6,0],[148.6,1],[149.6,0]];
const R19 = [[28.9,226],[28.6,219],[29,216],[29.2,218],[28.9,214],[29,217],[29.2,213],[29.4,210],[29.1,209],[29.5,211],[29.2,206],[29.3,205],[29.5,207],[29.3,208],[29.7,201],[29.7,196],[29.8,187],[55.2,131],[55.1,126],[55.4,120],[55.6,118],[55.8,114],[55.3,117],[55.6,112],[56,111],[56.2,96],[56.4,92],[56.2,88],[56.6,84],[56.5,80],[56.9,78],[57.1,74],[57,70],[57.4,68],[57.2,62],[59.5,83],[59.7,78],[59.9,73],[60,69],[60.4,64],[60.8,58],[61.1,54],[61.4,50],[61.6,44],[61.8,39],[62,34],[62.2,29],[74.9,53],[75,47],[75,41],[75.2,36],[75.5,32],[75.8,28],[76.2,25],[76.6,23],[77,21],[77.5,20],[78,18],[78.6,17],[79.2,16],[79.8,14],[80.4,12],[81,9],[81.5,7],[82,5],[82.8,4],[83.6,3],[84.4,2],[85.2,3],[86,2],[86.8,1],[87.6,2],[88.4,3],[89.2,1],[90,1],[90.8,2],[91.6,0],[92.4,1],[93.2,2],[94,0],[94.8,-1],[95.6,1],[96.4,-1],[97.2,0],[98,1],[98.8,0],[99.6,1],[100,-1],[82,1],[83,0],[84,-1],[85,0],[86,-1],[87,-2],[120.5,42],[120.7,37],[120.9,32],[121.2,27],[121.6,23],[122,19],[122.5,17],[123,14],[123.5,12],[124,10],[124.6,8],[125.2,7],[125.9,6],[126.7,5],[127.5,4],[128.3,4],[129.1,4],[129.9,4],[130.7,4],[131.3,4],[134.8,29],[135.1,25],[135.5,21],[135.9,18],[136.4,15],[136.9,13],[137.4,11],[138,8],[138.8,6],[139.6,5],[140.4,5],[141.2,4],[142,4],[142.8,4],[143.6,5],[144.4,4],[145.2,5],[146,5],[146.8,4],[147.6,5],[148.4,5],[149.2,4],[150,5],[150.8,5],[151.6,4],[152.4,5],[153.2,4],[154,5],[154.8,4],[155.6,5],[156.4,5],[157.2,5],[158,4],[158.8,5],[159.6,5],[160,6],[163.9,32],[164.2,26],[164.6,21],[165,16],[165.4,11],[165.6,8],[83,6],[84,5],[85,6],[86,5],[87,4],[88,6],[89,3],[90,4],[91,5],[92,3],[93,4],[94,3],[95,3],[96,3],[97,4],[98,3],[99,3],[100,3],[88,-1],[89,-2],[90,-2],[91,-2],[92,-2],[93,-2],[94,-3],[95,-3],[96,-3],[97,-3],[98,-2],[99,-3],[100,-3],[75.6,26],[76.4,21],[77.2,18],[78,16],[78.8,14],[79.6,12],[80.4,9],[81.2,6],[82,3],[75.2,28],[75.1,50],[75.2,44],[75.4,38],[75.7,34],[76.1,30],[121,30],[121.5,26],[122,22],[122.6,20],[123.2,17],[123.8,14],[124.4,12],[125,10],[125.7,9],[126.5,8],[127.3,7],[128.1,7],[129,7],[130,7],[131,7],[126,3],[127.2,2],[128.4,1],[129.6,1],[130.8,2],[135.3,27],[135.7,23],[136.1,20],[136.6,17],[137.1,15],[137.7,12],[138.4,9],[135.1,31],[139,3],[140,2],[141,2],[142,1],[143,2],[144,2],[145,2],[146,3],[147,2],[148,2],[149,3],[150,2],[151,2],[152,3],[153,2],[154,2],[155,2],[156,3],[157,2],[158,2],[159,3],[160,3],[140,8],[141.4,7],[143,7],[144.6,8],[146,8],[147.4,7],[149,7],[150.4,8],[152,7],[153.6,8],[155,7],[156.6,8],[158,7],[159.4,8]];
const R20 = [[146.4,88],[146.5,81],[146.2,64],[147.8,82],[148.9,83],[148.3,76],[149,86],[150,89],[152.4,93],[152.4,86],[154.2,71],[154.4,63],[154.2,58],[155.5,70],[156,78],[156.8,85],[156.6,78],[157,74],[156.7,68],[157.9,82],[158.5,66],[158,60],[160,74],[158.8,47],[159,42],[159.4,34],[159.2,27],[159.5,21],[160.2,44],[161,52],[161.6,57],[162.2,55],[162.8,50],[163.4,46],[164,38],[163.2,42],[164,28],[164.4,24],[165,58],[165.4,52],[165.3,44],[165,34],[162.4,38],[162,31],[165.5,60],[160.8,48],[161.3,46],[162,41],[161,55],[160.4,50],[159,50],[158.4,52],[163,52],[163.8,48],[164.4,44],[162.6,44],[164.8,38],[156.2,72],[155.6,64],[157.2,66],[158.2,72],[148.6,62],[148.2,56],[147.8,66]];
const R24 = [[-16,0],[-15.4,-1],[-14.8,-3],[-14.2,-5],[-13.6,-6],[-13,-8],[-12.6,-10],[-12,-12],[-11.4,-15],[-11,-17],[-10.4,-10],[-9.8,-5],[-9.2,0],[-9.4,-6],[-8.9,16],[-8.4,14],[-7,44],[-6.7,42],[-6.2,38],[-6.2,33],[-5.8,29],[-5.6,26],[-5.4,22],[-5.3,18],[-4.9,15],[-4.6,22],[-0.8,0],[-0.4,1],[0,-1],[0.5,0],[1,-1],[1.5,0],[2,0],[2.5,1],[3,-2],[-13.8,-38],[-14,-42],[-14,-46],[-13.6,-52],[-13.4,-60],[-13.6,-64],[-13.2,-58],[-13,-62],[-13.4,-68],[-13.8,-84],[-9.4,-81],[-2,-90],[3.5,-37],[3.7,-31],[3.5,-27],[3.6,-42],[3.4,-46],[3.2,-50],[2.7,-55],[2.5,-60],[2.6,-66],[2.4,-71],[2.5,-76],[2.4,-80],[2.2,-83],[5.4,0],[6,-2],[7,0],[7.6,-1],[8.2,0],[8.8,-1],[9.4,0],[10,-1],[10.4,-1],[9.2,-65],[10,-63],[10.5,-66],[11,-65],[11.4,-60],[9.8,-50],[10.1,-48],[10.3,-53],[11.2,-55],[11.6,-42],[11.9,-40],[12.2,-58],[12.6,-50],[13.2,-48],[13.6,-44],[14.2,-38],[14.6,-32],[15,-27],[15.5,-23],[16,-20],[16.6,-18],[17.2,-19],[17.8,-17],[18.4,-15],[19,-16],[19.6,-13],[20.2,-12],[20.8,-10],[21.4,-7],[22,-9],[22.6,-8],[23.2,-5],[23.8,-4],[24.4,-2],[25,0],[25.6,2],[26,1],[12.4,8],[13,7],[13.6,6],[14.2,5],[14.8,6],[15.4,5],[16,3],[16.6,4],[17.2,2],[17.8,3],[18.4,1],[19,2],[19.6,1],[20.2,0],[20.8,1],[21.4,0],[22,-1],[22.6,0],[23.2,-1],[23.8,0],[24.4,-1],[25,0],[25.6,-2],[26.2,-3],[26.8,-4],[27.4,-5],[28,-6],[28.6,-5],[29.2,-7],[29.8,-6],[30.4,-8],[31,-9],[31.6,-8],[32.2,-7],[32.8,-8],[33.4,-6],[34,-5],[34.6,-4],[35.2,-5],[35.8,-3],[36.4,-4],[37,-3],[25,8],[25.6,5],[26.2,3],[26,-8],[26.1,-16],[27.2,-34],[27.3,-42],[27.3,-48],[51.8,6],[52,8],[52.6,4],[53,2],[53.6,-2],[54.2,-5],[54.8,-7],[55.4,-8],[56,-10],[56.6,-8],[57.2,-10],[57.8,-8],[58.4,-7],[59,-6],[59.6,-5],[60.2,-5],[60.8,-3],[61.4,-3],[62,-2],[62.4,-1],[-15.8,-2],[-15,-5],[-14.4,-7],[-13.8,-8],[-13.2,-11],[-12.8,-13],[-12.2,-15],[-11.6,-18],[-11.2,-19],[-10.8,-14],[-10.2,-8],[-9.6,-3],[-6.5,40],[-6,36],[-5.6,32],[-5.2,26],[-5,21],[-5.5,19],[-13.6,-46],[-13.2,-50],[-13.8,-56],[-13.2,-66],[-13.8,-70],[12,5],[12.6,11],[13.2,10],[13.8,9],[14.4,9],[15,8],[15.6,7],[16.2,7],[16.8,5],[17.4,6],[18,4],[18.6,5],[19.2,4],[19.8,3],[20.4,3],[21,3],[21.6,2],[22.2,3],[22.8,2],[23.4,3],[24,2],[24.6,3],[25.2,2],[25.8,1],[26.4,0],[27,-2],[27.6,-2],[28.2,-3],[28.8,-2],[29.4,-4],[30,-3],[30.6,-5],[31.2,-5],[31.8,-5],[32.4,-4],[33,-5],[33.6,-3],[34.2,-2],[34.8,-1],[35.4,-2],[36,0],[36.6,-1],[37,0],[12.4,3],[13,2],[13.6,3],[14.2,2],[14.8,2],[15.4,1],[16,0],[16.6,1],[17.2,-1],[17.8,0],[18.4,-2],[19,-1],[19.6,-2],[20.2,-3],[20.8,-2],[21.4,-3],[22,-4],[22.6,-3],[23.2,-4],[23.8,-3],[24.4,-4],[25,-3],[26,-6],[27,-8],[28,-9],[29,-10],[30,-11],[31,-12],[32,-11],[33,-11],[34,-9],[35,-8],[36,-7],[37,-6],[12.4,-62],[13,-58],[13.4,-54],[13.8,-50],[14.2,-45],[14.6,-41],[15,-36],[15.4,-30],[15.8,-26],[16.2,-24],[16.7,-21],[17.2,-23],[17.7,-21],[18.2,-19],[18.8,-20],[19.4,-18],[20,-16],[20.6,-14],[21.2,-11],[21.8,-12],[22.4,-11],[23,-9],[23.6,-8],[24.2,-5],[24.8,-3],[25.4,-1],[13.2,-42],[13.7,-38],[14.2,-33],[14.7,-28],[15.2,-22],[15.7,-18],[16.2,-15],[16.8,-14],[17.4,-15],[18,-13],[18.6,-12],[19.2,-11],[19.8,-9],[20.4,-8],[21,-6],[21.6,-5],[22.2,-4],[22.8,-3],[23.4,-2],[25.6,-6],[25.8,-10],[25.6,-14],[26,-20],[25.9,-26],[52,2],[52.5,0],[53,-2],[53.5,-5],[54,-8],[54.5,-10],[55,-11],[55.5,-11],[56,-13],[56.6,-12],[57.2,-13],[57.8,-11],[58.4,-10],[59,-9],[60,-8],[61,-6],[62,-5],[52.6,8],[53.2,6],[53.8,2]];

const satNames = ['G01','G02','G03','G06','G07','G09','G11','G14','G17','G18','G19','G22','G23','G28','G31','G32','R01','R02','R03','R04','R10','R11','R13','R17','R18','R19','R20','R24'];
const satValues = [G01,G02,G03,G06,G07,G09,G11,G14,G17,G18,G19,G22,G23,G28,G31,G32,R01,R02,R03,R04,R10,R11,R13,R17,R18,R19,R20,R24];
const satColors = ['#1f77b4','#9467bd','#ff7f0e','#8c564b','#e377c2','#17becf','#17becf','#bcbd22','#e377c2','#2ca02c','#1f77b4','#d62728','#bcbd22','#7f7f7f','#9467bd','#d62728','#e377c2','#ff7f0e','#9467bd','#2ca02c','#7f7f7f','#ff7f0e','#d62728','#8c564b','#2ca02c','#1f77b4','#7f7f7f','#8c564b'];
const satMarkers = ['+','1','+','1','1','x','+','x','+','+','x','+','+','+','+','x','x','x','x','1','x','1','1','+','x','1','1','x'];
const xTickLabels = ['10:11','10:41','11:11','11:41','12:11','12:41'];
const yTickValues = [-200,-150,-100,-50,0,50,100,150,200,250];

const width = 1225, height = 831;
const plotL = 98, plotR = 1213, plotT = 16, plotB = 667;

const parseTime = d3.timeParse('%H:%M');
const fromMinutes = m => new Date(1900, 0, 1, 10, 0, m * 60);

const x = d3.scaleTime().domain([fromMinutes(-16.04), fromMinutes(165.55)]).range([plotL, plotR]);
const y = d3.scaleLinear().domain([-200, 250]).range([plotB, plotT]);

// same look as matplotlib '+', 'x' and '1'
const markerPaths = {
    '+': 'M-3.9,0H3.9M0,-3.9V3.9',
    'x': 'M-3,-3L3,3M-3,3L3,-3',
    '1': 'M0,0V4M0,0L-3.5,-2M0,0L3.5,-2'
};

const svg = d3.select('#chart').append('svg').attr('width', width).attr('height', height);

svg.append('clipPath').attr('id', 'plot-area').append('rect')
    .attr('x', plotL).attr('y', plotT).attr('width', plotR - plotL).attr('height', plotB - plotT);

const grid = svg.append('g').attr('class', 'grid');
grid.selectAll('.gx').data(xTickLabels).enter().append('line')
    .attr('x1', d => x(parseTime(d))).attr('x2', d => x(parseTime(d)))
    .attr('y1', plotT).attr('y2', plotB);
grid.selectAll('.gy').data(yTickValues).enter().append('line')
    .attr('x1', plotL).attr('x2', plotR)
    .attr('y1', d => y(d)).attr('y2', d => y(d));

// Puntos
const plot = svg.append('g').attr('clip-path', 'url(#plot-area)');
satNames.forEach((name, i) => {
    plot.append('g')
        .attr('fill', 'none')
        .attr('stroke', satColors[i])
        .attr('stroke-width', 2.2)
        .selectAll('path')
        .data(satValues[i])
        .join('path')
        .attr('d', markerPaths[satMarkers[i]])
        .attr('transform', d => `translate(${x(fromMinutes(d[0]))},${y(d[1])})`);
});

// Ejes
const xAxis = d3.axisBottom(x).tickValues(xTickLabels.map(parseTime))
    .tickFormat(d3.timeFormat('%H:%M')).tickSize(6).tickPadding(6);
const yAxis = d3.axisLeft(y).tickValues(yTickValues)
    .tickFormat(d => String(d).replace('-', '\u2212')).tickSize(6).tickPadding(5);

svg.append('g').attr('class', 'axis').attr('transform', `translate(0,${plotB})`).call(xAxis)
    .select('.domain').remove();
svg.append('g').attr('class', 'axis').attr('transform', `translate(${plotL},0)`).call(yAxis)
    .select('.domain').remove();

svg.append('rect')
    .attr('x', plotL).attr('y', plotT).attr('width', plotR - plotL).attr('height', plotB - plotT)
    .attr('fill', 'none').attr('stroke', '#111').attr('stroke-width', 1.2);

svg.append('text')
    .attr('x', (plotL + plotR) / 2).attr('y', 7)
    .attr('text-anchor', 'middle')
    .style('font-size', '23.8px')
    .text('Note: The sampling interval of this plot is 4.0 sec');

svg.append('text')
    .attr('transform', 'translate(23,344) rotate(-90)')
    .attr('text-anchor', 'middle')
    .style('font-size', '18px')
    .text('metres');

// Leyenda: 4 filas en las primeras 4 columnas, 3 en las demás
const legendMarkerX = [170, 298, 425, 552, 697, 827, 956, 1086];
const legendTextX = [204, 332, 459, 586, 732, 862, 991, 1122];
const legendRowY = [725, 756, 786, 816];
const legendCol = i => i < 16 ? Math.floor(i / 4) : 4 + Math.floor((i - 16) / 3);
const legendRow = i => i < 16 ? i % 4 : (i - 16) % 3;

svg.append('rect')
    .attr('x', 144.5).attr('y', 709.5).attr('width', 1023).attr('height', 140)
    .attr('fill', '#fff').attr('stroke', '#555').attr('stroke-width', 1.2);

const legend = svg.selectAll('.legend-item').data(satNames).join('g')
    .attr('class', 'legend-item')
    .attr('transform', (d, i) => `translate(0,${legendRowY[legendRow(i)]})`);

legend.append('path')
    .attr('d', (d, i) => markerPaths[satMarkers[i]])
    .attr('transform', (d, i) => `translate(${legendMarkerX[legendCol(i)]},0)`)
    .attr('fill', 'none')
    .attr('stroke', (d, i) => satColors[i])
    .attr('stroke-width', 1.4);

const legendText = legend.append('text')
    .attr('x', (d, i) => legendTextX[legendCol(i)])
    .attr('y', 6)
    .style('font-size', '18px');
legendText.append('tspan').style('font-style', 'italic').text(d => d[0]);
legendText.append('tspan').text(d => d.slice(1));
</script>
</body>
</html>
